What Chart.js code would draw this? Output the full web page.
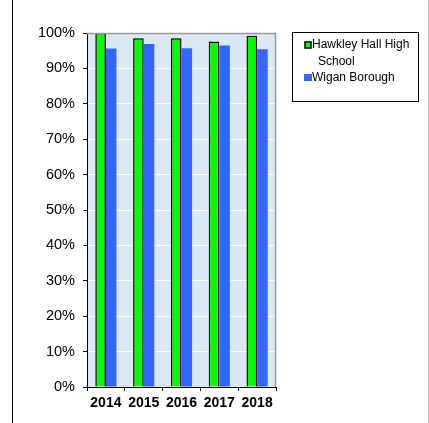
<!DOCTYPE html>
<html>
<head>
<meta charset="utf-8">
<script src="https://cdn.jsdelivr.net/npm/chart.js@4.4.1/dist/chart.umd.min.js"></script>
<style>
  html, body { margin: 0; padding: 0; background: #fff; }
  #wrap { position: relative; width: 429px; height: 423px; }
  #wrap:before { content: ''; position: absolute; left: 12px; top: 0; bottom: 0; border-left: 1px solid #000; }
  #wrap:after { content: ''; position: absolute; left: 428px; top: 0; bottom: 0; border-left: 1px solid #c8c8c8; }
</style>
</head>
<body>
<div id="wrap"><canvas id="grafico" width="429" height="423"></canvas></div>
<script>
// datos del grafico
var anios = ['2014', '2015', '2016', '2017', '2018'];
var hawkley = [1.000, 0.985, 0.985, 0.976, 0.992];
var wigan = [0.956, 0.969, 0.957, 0.965, 0.954];
var nombres = ['Hawkley Hall High School', 'Wigan Borough'];

var fuente = '"Liberation Sans", Arial, sans-serif';

// fondo del area y leyenda dibujados a mano
var fondoPlugin = {
    id: 'fondo',
    beforeDraw: function(chart) {
        var ctx = chart.ctx, a = chart.chartArea;
        ctx.save();
        ctx.fillStyle = '#dde8f5';
        ctx.fillRect(a.left, a.top, a.right - a.left, a.bottom - a.top);
        ctx.restore();
    },
    afterDatasetsDraw: function(chart) {
        var ctx = chart.ctx, a = chart.chartArea;
        ctx.save();
        ctx.strokeStyle = '#9a9a9a';
        ctx.lineWidth = 1.5;
        ctx.beginPath();
        ctx.moveTo(a.left, a.top + 0.5);
        ctx.lineTo(a.right - 0.5, a.top + 0.5);
        ctx.lineTo(a.right - 0.5, a.bottom);
        ctx.stroke();

        // leyenda
        ctx.strokeStyle = '#000';
        ctx.lineWidth = 1;
        ctx.strokeRect(292.5, 32.5, 126, 69);
        ctx.font = '12px ' + fuente;
        ctx.textBaseline = 'middle';
        ctx.fillStyle = '#00ff00';
        ctx.fillRect(305, 42, 6, 6);
        ctx.strokeStyle = '#000';
        ctx.lineWidth = 1.5;
        ctx.strokeRect(305, 42, 6, 6);
        ctx.fillStyle = '#000';
        ctx.fillText('Hawkley Hall High', 312, 45);
        ctx.fillText('School', 318, 62);
        ctx.fillStyle = '#3366ff';
        ctx.fillRect(304, 74, 8, 7);
        ctx.fillStyle = '#000';
        ctx.fillText(nombres[1], 312, 78);
        ctx.restore();
    }
};

var ctx = document.getElementById('grafico').getContext('2d');
var miGrafico = new Chart(ctx, {
    type: 'bar',
    data: {
        labels: anios,
        datasets: [{
            label: nombres[0],
            data: hawkley,
            backgroundColor: '#00ff00',
            borderColor: '#000',
            borderWidth: 1.5,
            borderSkipped: 'bottom',
            barPercentage: 1,
            categoryPercentage: 0.56
        }, {
            label: nombres[1],
            data: wigan,
            backgroundColor: '#3366ff',
            borderWidth: 0,
            barPercentage: 1,
            categoryPercentage: 0.56
        }]
    },
    options: {
        responsive: false,
        animation: false,
        layout: { padding: { top: 33, right: 153, bottom: 0, left: 0 } },
        plugins: { legend: { display: false }, tooltip: { enabled: false } },
        scales: {
            x: {
                offset: true,
                grid: { display: true, drawOnChartArea: false, offset: true, color: '#000', tickLength: 4 },
                border: { color: '#000', width: 1 },
                ticks: {
                    color: '#000',
                    padding: 4,
                    font: { family: fuente, size: 14, weight: 'bold' }
                },
                afterFit: function(s) { s.height = 36; }
            },
            y: {
                min: 0,
                max: 1,
                ticks: {
                    stepSize: 0.1,
                    color: '#000',
                    padding: 8,
                    font: { family: fuente, size: 14.5 },
                    callback: function(v) { return Math.round(v * 100) + '%'; }
                },
                grid: { color: '#ffffff', lineWidth: 1, tickColor: '#000', tickLength: 4 },
                border: { color: '#000', width: 1 },
                afterFit: function(s) { s.width = 87; }
            }
        }
    },
    plugins: [fondoPlugin]
});
</script>
</body>
</html>
